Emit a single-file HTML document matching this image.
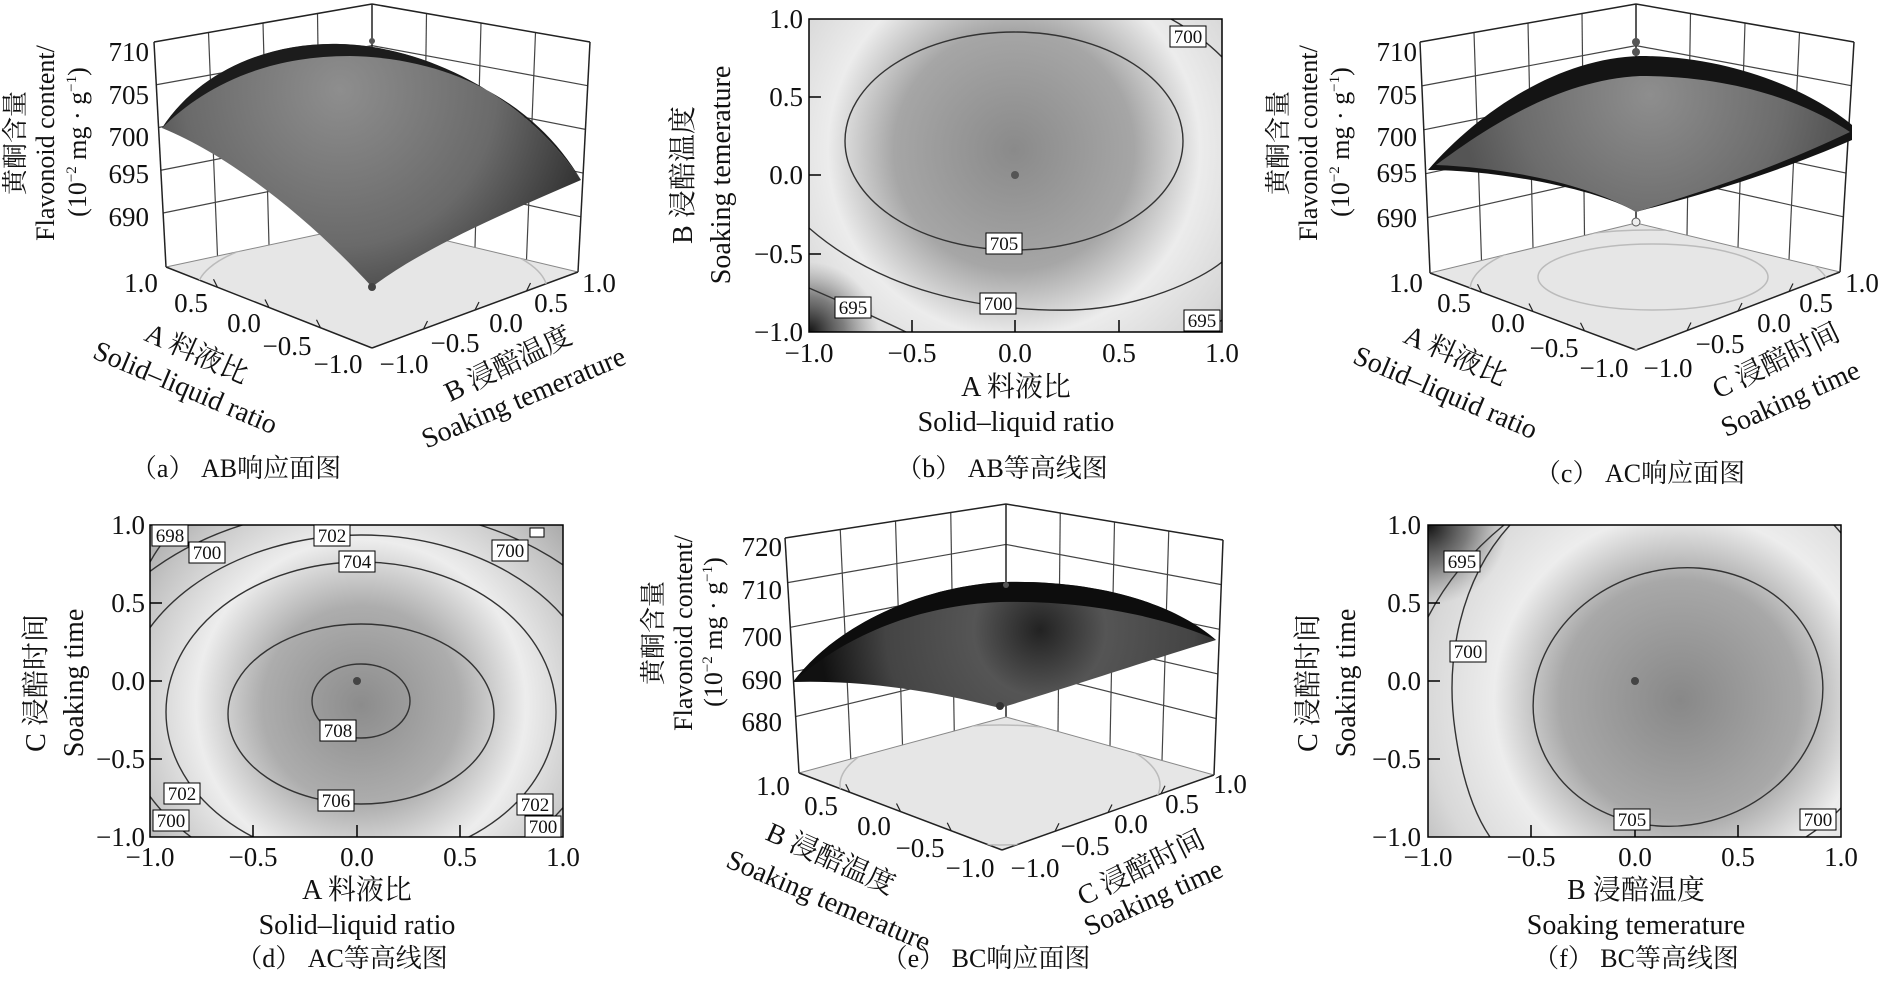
<!DOCTYPE html>
<html><head><meta charset="utf-8"><style>
html,body{margin:0;padding:0;background:#fff;}
svg{display:block;}
text{font-family:"Liberation Serif","Noto Serif CJK SC","Noto Sans CJK SC",serif;fill:#111;}
.t{font-size:28px;}
.ti{font-size:27px;}
.yt{font-size:26px;}
.cap{font-size:26px;}
.lb{font-size:19px;}
.lbr{fill:#fff;stroke:#000;stroke-width:1;}
.ct{fill:none;stroke:#333;stroke-width:1.4;}
</style></head><body>
<svg id="s" width="1884" height="984" viewBox="0 0 1884 984" xmlns="http://www.w3.org/2000/svg">
<defs>
<radialGradient id="gb" gradientUnits="userSpaceOnUse" cx="1014" cy="150" r="300">
<stop offset="0" stop-color="#8a8a8a"/><stop offset="0.4" stop-color="#a6a6a6"/><stop offset="0.62" stop-color="#ececec"/><stop offset="0.85" stop-color="#d6d6d6"/><stop offset="1" stop-color="#a8a8a8"/></radialGradient>
<radialGradient id="gd" gradientUnits="userSpaceOnUse" cx="361" cy="705" r="300">
<stop offset="0" stop-color="#8c8c8c"/><stop offset="0.33" stop-color="#adadad"/><stop offset="0.55" stop-color="#ededed"/><stop offset="0.78" stop-color="#c4c4c4"/><stop offset="1" stop-color="#959595"/></radialGradient>
<radialGradient id="gf" gradientUnits="userSpaceOnUse" cx="1680" cy="700" r="300">
<stop offset="0" stop-color="#888"/><stop offset="0.4" stop-color="#a8a8a8"/><stop offset="0.62" stop-color="#ededed"/><stop offset="0.85" stop-color="#d8d8d8"/><stop offset="1" stop-color="#bbb"/></radialGradient>
<radialGradient id="dk" r="0.5"><stop offset="0" stop-color="#111"/><stop offset="0.5" stop-color="#555" stop-opacity="0.7"/><stop offset="1" stop-color="#888" stop-opacity="0"/></radialGradient>
<radialGradient id="sa" gradientUnits="userSpaceOnUse" cx="340" cy="90" r="260">
<stop offset="0" stop-color="#8e8e8e"/><stop offset="0.6" stop-color="#6a6a6a"/><stop offset="1" stop-color="#303030"/></radialGradient>
<radialGradient id="sc" gradientUnits="userSpaceOnUse" cx="1650" cy="95" r="190">
<stop offset="0" stop-color="#8e8e8e"/><stop offset="0.7" stop-color="#6c6c6c"/><stop offset="1" stop-color="#555"/></radialGradient>
<radialGradient id="se" gradientUnits="userSpaceOnUse" cx="1040" cy="630" r="220">
<stop offset="0" stop-color="#222"/><stop offset="0.3" stop-color="#555"/><stop offset="0.7" stop-color="#444"/><stop offset="1" stop-color="#111"/></radialGradient>
<clipPath id="cb"><rect x="809" y="19" width="413" height="313"/></clipPath>
<clipPath id="cd"><rect x="150" y="525" width="413" height="312"/></clipPath>
<clipPath id="cf"><rect x="1428" y="525" width="413" height="312"/></clipPath>
<clipPath id="fa"><polygon points="166,267 372,223 578,272 372,348"/></clipPath>
<clipPath id="fc"><polygon points="1430,273 1636,223 1840,272 1636,350"/></clipPath>
<clipPath id="fe"><polygon points="799,773 1006,717 1214,775 1002,850"/></clipPath>
</defs>

<g id="boxes"></g>

<!-- ===== (a) ===== -->
<ellipse cx="372" cy="290" rx="175" ry="60" fill="none" stroke="#bbb" stroke-width="1.5" clip-path="url(#fa)"/>
<path d="M162,128 C200,70 270,42 340,44 C420,46 520,90 581,180 C500,215 420,250 372,287 C320,230 240,160 162,128 Z" fill="url(#sa)"/>
<path d="M162,128 C200,70 270,42 340,44 C420,46 520,90 581,180 C540,110 460,58 350,56 C260,56 200,90 162,128 Z" fill="#1c1c1c"/>
<circle cx="372" cy="287" r="4" fill="#444"/><circle cx="372" cy="41" r="3" fill="#555"/>
<g class="ti" text-anchor="end"><text x="149" y="61">710</text><text x="149" y="104">705</text><text x="149" y="146">700</text><text x="149" y="183">695</text><text x="149" y="226">690</text></g>
<g class="ti" text-anchor="middle">
<text x="141" y="292">1.0</text><text x="191" y="312">0.5</text><text x="244" y="332">0.0</text><text x="287" y="355">−0.5</text><text x="338" y="373">−1.0</text>
<text x="404" y="373">−1.0</text><text x="455" y="352">−0.5</text><text x="506" y="332">0.0</text><text x="551" y="312">0.5</text><text x="599" y="292">1.0</text></g>
<text class="t" text-anchor="middle" transform="translate(193,362) rotate(24)">A 料液比</text>
<text class="t" text-anchor="middle" transform="translate(182,396) rotate(23)">Solid–liquid ratio</text>
<text class="t" text-anchor="middle" transform="translate(512,372) rotate(-26)">B 浸醅温度</text>
<text class="t" text-anchor="middle" transform="translate(527,406) rotate(-23)">Soaking temerature</text>
<g class="yt" text-anchor="middle">
<text transform="translate(24,143) rotate(-90)">黄酮含量</text>
<text transform="translate(54,143) rotate(-90)">Flavonoid content/</text>
<text transform="translate(86,142) rotate(-90)">(10<tspan font-size="15" dy="-10">−2</tspan><tspan dy="10"> mg · g</tspan><tspan font-size="15" dy="-10">−1</tspan><tspan dy="10">)</tspan></text></g>
<text class="cap" x="236" y="477" text-anchor="middle">（a） AB响应面图</text>

<!-- ===== (b) ===== -->
<rect x="809" y="19" width="413" height="313" fill="url(#gb)"/>
<g clip-path="url(#cb)"><circle cx="809" cy="332" r="70" fill="url(#dk)"/>
<ellipse class="ct" cx="1014" cy="141" rx="169" ry="109"/>
<path class="ct" d="M809,228 C880,290 980,312 1073,310 C1140,308 1200,280 1222,262"/>
<path class="ct" d="M1171,19 Q1200,35 1222,57"/>
<path class="ct" d="M809,288 Q860,310 906,332"/>
<path class="ct" d="M1200,332 Q1215,326 1222,320"/></g>
<rect x="809" y="19" width="413" height="313" fill="none" stroke="#000" stroke-width="1.5"/>
<circle cx="1015" cy="175" r="4" fill="#555"/>
<g stroke="#000" stroke-width="1.5"><line x1="912" y1="332" x2="912" y2="320"/><line x1="1015" y1="332" x2="1015" y2="320"/><line x1="1119" y1="332" x2="1119" y2="320"/><line x1="809" y1="97" x2="821" y2="97"/><line x1="809" y1="175" x2="821" y2="175"/><line x1="809" y1="254" x2="821" y2="254"/></g>
<g class="lb" text-anchor="middle">
<rect class="lbr" x="1170" y="26" width="36" height="21"/><text x="1188" y="43">700</text>
<rect class="lbr" x="986" y="233" width="36" height="21"/><text x="1004" y="250">705</text>
<rect class="lbr" x="980" y="293" width="36" height="21"/><text x="998" y="310">700</text>
<rect class="lbr" x="835" y="297" width="36" height="21"/><text x="853" y="314">695</text>
<rect class="lbr" x="1184" y="310" width="36" height="21"/><text x="1202" y="327">695</text></g>
<g class="ti" text-anchor="end"><text x="803" y="28">1.0</text><text x="803" y="106">0.5</text><text x="803" y="184">0.0</text><text x="803" y="263">−0.5</text><text x="803" y="341">−1.0</text></g>
<g class="ti" text-anchor="middle"><text x="809" y="362">−1.0</text><text x="912" y="362">−0.5</text><text x="1015" y="362">0.0</text><text x="1119" y="362">0.5</text><text x="1222" y="362">1.0</text></g>
<text class="t" x="1016" y="396" text-anchor="middle">A 料液比</text>
<text class="t" x="1016" y="431" text-anchor="middle">Solid–liquid ratio</text>
<text class="t" text-anchor="middle" transform="translate(692,175) rotate(-90)">B 浸醅温度</text>
<text class="t" text-anchor="middle" transform="translate(730,175) rotate(-90)">Soaking temerature</text>
<text class="cap" x="1002" y="477" text-anchor="middle">（b） AB等高线图</text>

<!-- ===== (c) ===== -->
<ellipse cx="1653" cy="277" rx="115" ry="33" fill="none" stroke="#bbb" stroke-width="1.5" clip-path="url(#fc)"/>
<ellipse cx="1650" cy="290" rx="180" ry="60" fill="none" stroke="#bbb" stroke-width="1.5" clip-path="url(#fc)"/>
<path d="M1428,170 C1480,110 1560,58 1640,56 C1730,56 1810,90 1852,125 L1852,140 C1760,180 1680,200 1636,212 C1600,190 1500,170 1428,170 Z" fill="#141414"/>
<path d="M1436,165 C1490,125 1560,80 1640,76 C1740,76 1810,105 1850,132 C1760,175 1680,198 1636,212 C1590,185 1510,168 1436,165 Z" fill="url(#sc)"/>
<circle cx="1636" cy="42" r="4" fill="#555"/><circle cx="1636" cy="52" r="4" fill="#555"/><circle cx="1636" cy="222" r="4" fill="#eee" stroke="#555"/>
<g class="ti" text-anchor="end"><text x="1417" y="61">710</text><text x="1417" y="104">705</text><text x="1417" y="146">700</text><text x="1417" y="182">695</text><text x="1417" y="227">690</text></g>
<g class="ti" text-anchor="middle">
<text x="1406" y="292">1.0</text><text x="1454" y="312">0.5</text><text x="1508" y="332">0.0</text><text x="1554" y="357">−0.5</text><text x="1604" y="377">−1.0</text>
<text x="1668" y="377">−1.0</text><text x="1720" y="353">−0.5</text><text x="1774" y="332">0.0</text><text x="1816" y="312">0.5</text><text x="1862" y="292">1.0</text></g>
<text class="t" text-anchor="middle" transform="translate(1452,364) rotate(24)">A 料液比</text>
<text class="t" text-anchor="middle" transform="translate(1442,401) rotate(23)">Solid–liquid ratio</text>
<text class="t" text-anchor="middle" transform="translate(1780,369) rotate(-26)">C 浸醅时间</text>
<text class="t" text-anchor="middle" transform="translate(1794,407) rotate(-24)">Soaking time</text>
<g class="yt" text-anchor="middle">
<text transform="translate(1287,143) rotate(-90)">黄酮含量</text>
<text transform="translate(1317,143) rotate(-90)">Flavonoid content/</text>
<text transform="translate(1349,142) rotate(-90)">(10<tspan font-size="15" dy="-10">−2</tspan><tspan dy="10"> mg · g</tspan><tspan font-size="15" dy="-10">−1</tspan><tspan dy="10">)</tspan></text></g>
<text class="cap" x="1640" y="482" text-anchor="middle">（c） AC响应面图</text>

<!-- ===== (d) ===== -->
<rect x="150" y="525" width="413" height="312" fill="url(#gd)"/>
<g clip-path="url(#cd)">
<ellipse class="ct" cx="361" cy="701" rx="49" ry="37"/>
<ellipse class="ct" cx="361" cy="714" rx="133" ry="90"/>
<ellipse class="ct" cx="361" cy="712" rx="195" ry="150"/>
<ellipse class="ct" cx="361" cy="712" rx="240" ry="177"/>
<ellipse class="ct" cx="361" cy="712" rx="290" ry="205"/>
<path class="ct" d="M150,562 Q165,535 182,525"/></g>
<rect x="150" y="525" width="413" height="312" fill="none" stroke="#000" stroke-width="1.5"/>
<circle cx="357" cy="681" r="4" fill="#444"/>
<g stroke="#000" stroke-width="1.5"><line x1="253" y1="837" x2="253" y2="825"/><line x1="357" y1="837" x2="357" y2="825"/><line x1="460" y1="837" x2="460" y2="825"/><line x1="150" y1="603" x2="162" y2="603"/><line x1="150" y1="681" x2="162" y2="681"/><line x1="150" y1="759" x2="162" y2="759"/></g>
<g class="lb" text-anchor="middle">
<rect class="lbr" x="152" y="525" width="36" height="21"/><text x="170" y="542">698</text>
<rect class="lbr" x="189" y="542" width="36" height="21"/><text x="207" y="559">700</text>
<rect class="lbr" x="314" y="525" width="36" height="21"/><text x="332" y="542">702</text>
<rect class="lbr" x="339" y="551" width="36" height="21"/><text x="357" y="568">704</text>
<rect class="lbr" x="492" y="540" width="36" height="21"/><text x="510" y="557">700</text>
<rect class="lbr" x="320" y="720" width="36" height="21"/><text x="338" y="737">708</text>
<rect class="lbr" x="318" y="790" width="36" height="21"/><text x="336" y="807">706</text>
<rect class="lbr" x="164" y="783" width="36" height="21"/><text x="182" y="800">702</text>
<rect class="lbr" x="153" y="810" width="36" height="21"/><text x="171" y="827">700</text>
<rect class="lbr" x="517" y="794" width="36" height="21"/><text x="535" y="811">702</text>
<rect class="lbr" x="525" y="816" width="36" height="21"/><text x="543" y="833">700</text>
<rect class="lbr" x="530" y="528" width="14" height="9"/></g>
<g class="ti" text-anchor="end"><text x="145" y="534">1.0</text><text x="145" y="612">0.5</text><text x="145" y="690">0.0</text><text x="145" y="768">−0.5</text><text x="145" y="846">−1.0</text></g>
<g class="ti" text-anchor="middle"><text x="150" y="866">−1.0</text><text x="253" y="866">−0.5</text><text x="357" y="866">0.0</text><text x="460" y="866">0.5</text><text x="563" y="866">1.0</text></g>
<text class="t" x="357" y="899" text-anchor="middle">A 料液比</text>
<text class="t" x="357" y="934" text-anchor="middle">Solid–liquid ratio</text>
<text class="t" text-anchor="middle" transform="translate(45,683) rotate(-90)">C 浸醅时间</text>
<text class="t" text-anchor="middle" transform="translate(83,683) rotate(-90)">Soaking time</text>
<text class="cap" x="342" y="967" text-anchor="middle">（d） AC等高线图</text>

<!-- ===== (e) ===== -->
<ellipse cx="1000" cy="785" rx="160" ry="60" fill="none" stroke="#bbb" stroke-width="1.5" clip-path="url(#fe)"/>
<path d="M793,682 C840,620 930,585 1005,582 C1090,580 1170,600 1216,640 C1150,660 1060,690 1000,708 C930,690 860,680 793,682 Z" fill="url(#se)"/>
<path d="M793,682 C840,620 930,585 1005,582 C1090,580 1170,600 1216,640 C1160,615 1080,600 1000,602 C910,606 840,640 793,682 Z" fill="#0d0d0d"/>
<circle cx="1000" cy="706" r="4" fill="#333"/><circle cx="1006" cy="585" r="3" fill="#555"/>
<g class="ti" text-anchor="end"><text x="782" y="556">720</text><text x="782" y="599">710</text><text x="782" y="646">700</text><text x="782" y="689">690</text><text x="782" y="731">680</text></g>
<g class="ti" text-anchor="middle">
<text x="773" y="795">1.0</text><text x="821" y="815">0.5</text><text x="874" y="835">0.0</text><text x="920" y="857">−0.5</text><text x="970" y="877">−1.0</text>
<text x="1035" y="877">−1.0</text><text x="1085" y="855">−0.5</text><text x="1131" y="833">0.0</text><text x="1182" y="813">0.5</text><text x="1230" y="793">1.0</text></g>
<text class="t" text-anchor="middle" transform="translate(827,867) rotate(24)">B 浸醅温度</text>
<text class="t" text-anchor="middle" transform="translate(825,909) rotate(23)">Soaking temerature</text>
<text class="t" text-anchor="middle" transform="translate(1145,876) rotate(-26)">C 浸醅时间</text>
<text class="t" text-anchor="middle" transform="translate(1157,906) rotate(-24)">Soaking time</text>
<g class="yt" text-anchor="middle">
<text transform="translate(662,633) rotate(-90)">黄酮含量</text>
<text transform="translate(692,633) rotate(-90)">Flavonoid content/</text>
<text transform="translate(722,632) rotate(-90)">(10<tspan font-size="15" dy="-10">−2</tspan><tspan dy="10"> mg · g</tspan><tspan font-size="15" dy="-10">−1</tspan><tspan dy="10">)</tspan></text></g>
<text class="cap" x="986" y="967" text-anchor="middle">（e） BC响应面图</text>

<!-- ===== (f) ===== -->
<rect x="1428" y="525" width="413" height="312" fill="url(#gf)"/>
<g clip-path="url(#cf)"><circle cx="1428" cy="525" r="80" fill="url(#dk)"/>
<ellipse class="ct" cx="1678" cy="697" rx="146" ry="128" transform="rotate(-15 1678 697)"/>
<path class="ct" d="M1510,525 C1460,580 1445,660 1455,730 C1462,780 1475,815 1490,837"/>
<path class="ct" d="M1806,837 Q1825,825 1841,808"/>
<path class="ct" d="M1834,525 L1841,533"/>
<path class="ct" d="M1428,617 Q1455,565 1504,525"/></g>
<rect x="1428" y="525" width="413" height="312" fill="none" stroke="#000" stroke-width="1.5"/>
<circle cx="1635" cy="681" r="4" fill="#444"/>
<g stroke="#000" stroke-width="1.5"><line x1="1531" y1="837" x2="1531" y2="825"/><line x1="1635" y1="837" x2="1635" y2="825"/><line x1="1738" y1="837" x2="1738" y2="825"/><line x1="1428" y1="603" x2="1440" y2="603"/><line x1="1428" y1="681" x2="1440" y2="681"/><line x1="1428" y1="759" x2="1440" y2="759"/></g>
<g class="lb" text-anchor="middle">
<rect class="lbr" x="1444" y="551" width="36" height="21"/><text x="1462" y="568">695</text>
<rect class="lbr" x="1450" y="641" width="36" height="21"/><text x="1468" y="658">700</text>
<rect class="lbr" x="1614" y="809" width="36" height="21"/><text x="1632" y="826">705</text>
<rect class="lbr" x="1800" y="809" width="36" height="21"/><text x="1818" y="826">700</text></g>
<g class="ti" text-anchor="end"><text x="1421" y="534">1.0</text><text x="1421" y="612">0.5</text><text x="1421" y="690">0.0</text><text x="1421" y="768">−0.5</text><text x="1421" y="846">−1.0</text></g>
<g class="ti" text-anchor="middle"><text x="1428" y="866">−1.0</text><text x="1531" y="866">−0.5</text><text x="1635" y="866">0.0</text><text x="1738" y="866">0.5</text><text x="1841" y="866">1.0</text></g>
<text class="t" x="1636" y="899" text-anchor="middle">B 浸醅温度</text>
<text class="t" x="1636" y="934" text-anchor="middle">Soaking temerature</text>
<text class="t" text-anchor="middle" transform="translate(1317,683) rotate(-90)">C 浸醅时间</text>
<text class="t" text-anchor="middle" transform="translate(1355,683) rotate(-90)">Soaking time</text>
<text class="cap" x="1636" y="967" text-anchor="middle">（f） BC等高线图</text>
</svg>
<script>
(function(){
var NS="http://www.w3.org/2000/svg",g=document.getElementById("boxes");
function L(a,b,c,w){var l=document.createElementNS(NS,"line");l.setAttribute("x1",a[0]);l.setAttribute("y1",a[1]);l.setAttribute("x2",b[0]);l.setAttribute("y2",b[1]);l.setAttribute("stroke",c||"#444");l.setAttribute("stroke-width",w||1.2);g.appendChild(l);}
function lp(a,b,t){return [a[0]+(b[0]-a[0])*t,a[1]+(b[1]-a[1])*t];}
function P(pts,f){var p=document.createElementNS(NS,"polygon");p.setAttribute("points",pts.map(function(q){return q.join(",")}).join(" "));p.setAttribute("fill",f);g.appendChild(p);}
function box(TL,BT,TR,BL,BB,BR,F){
 P([BL,BB,BR,F],"#e6e6e6");
 var fs=[.25,.5,.75],gs=[.19,.38,.57,.76];
 fs.forEach(function(f){L(lp(TL,BT,f),lp(BL,BB,f));L(lp(BT,TR,f),lp(BB,BR,f));});
 gs.forEach(function(t){L(lp(TL,BL,t),lp(BT,BB,t));L(lp(BT,BB,t),lp(TR,BR,t));});
 L(TL,BT,"#222",1.5);L(BT,TR,"#222",1.5);L(TL,BL,"#222",1.5);L(TR,BR,"#222",1.5);L(BT,BB,"#222",1.5);
 L(BL,BB,"#888",1);L(BB,BR,"#888",1);
 L(BL,F,"#222",1.5);L(F,BR,"#222",1.5);
 fs.forEach(function(f){var a=lp(BL,F,f),b=lp(F,BR,f);L(a,[a[0]-4,a[1]-8],"#222",1.2);L(b,[b[0]+4,b[1]-8],"#222",1.2);});
}
box([154,42],[372,4],[590,42],[166,267],[372,223],[578,272],[372,348]);
box([1420,42],[1636,4],[1854,42],[1430,273],[1636,223],[1840,272],[1636,350]);
box([785,538],[1006,504],[1223,540],[799,773],[1006,717],[1214,775],[1002,850]);
})();
</script>
</body></html>
